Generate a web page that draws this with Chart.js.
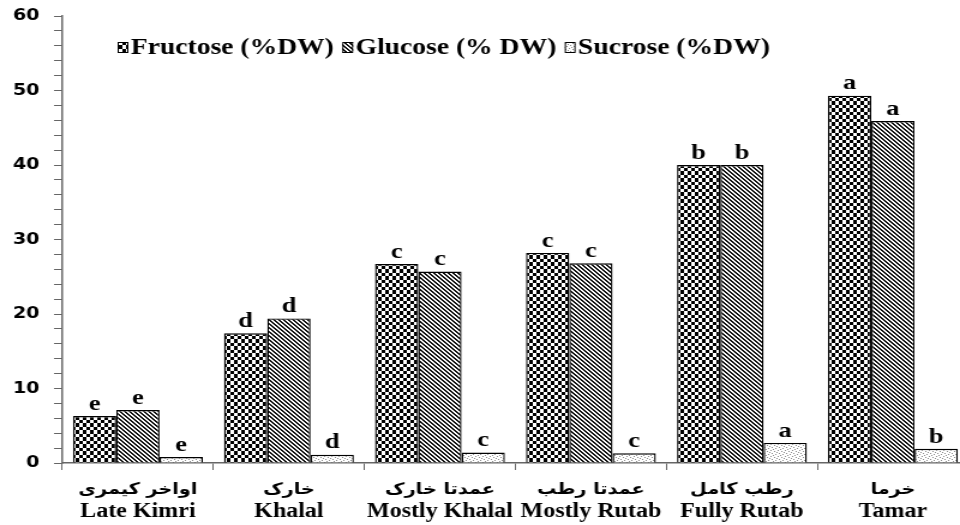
<!DOCTYPE html>
<html>
<head>
<meta charset="utf-8">
<script src="https://cdn.jsdelivr.net/npm/chart.js@4.4.1/dist/chart.umd.min.js"></script>
<style>
  html, body { margin: 0; padding: 0; background: #fff; overflow: hidden; }
  #wrap { width: 960px; height: 525px; overflow: hidden; position: relative; }
  /* the source figure is stretched sideways, so the chart is drawn narrow and widened */
  #box { width: 808px; height: 525px; position: absolute; left: 0; top: 0;
         transform: scaleX(1.2); transform-origin: 0 0; }
</style>
</head>
<body>
<div id="wrap"><div id="box"><canvas id="c"></canvas></div></div>
<script>
/* ---------- data ---------- */
const stagesFa = ['اواخر کیمری', 'خارک', 'عمدتا خارک', 'عمدتا رطب', 'رطب کامل', 'خرما'];
const stagesEn = ['Late Kimri', 'Khalal', 'Mostly Khalal', 'Mostly Rutab', 'Fully Rutab', 'Tamar'];

const fructose = [6.3, 17.4, 26.7, 28.2, 40.0, 49.3];
const glucose  = [7.1, 19.4, 25.7, 26.8, 40.0, 45.9];
const sucrose  = [0.8, 1.1, 1.4, 1.3, 2.7, 1.9];

const fructoseLetters = ['e', 'd', 'c', 'c', 'b', 'a'];
const glucoseLetters  = ['e', 'd', 'c', 'c', 'b', 'a'];
const sucroseLetters  = ['e', 'd', 'c', 'c', 'a', 'b'];

const yTicks = [0, 10, 20, 30, 40, 50, 60];

/* ---------- fill patterns (checker / hatch / stipple) ---------- */
function makeTile(w, h, paint) {
  const t = document.createElement('canvas');
  t.width = w; t.height = h;
  const g = t.getContext('2d');
  g.fillStyle = '#fff';
  g.fillRect(0, 0, w, h);
  paint(g);
  return g.createPattern(t, 'repeat');
}

const checker = makeTile(6, 7, g => {
  g.fillStyle = '#000';
  g.fillRect(0, 0, 3, 3);
  g.fillRect(3, 3, 3, 4);
});

const hatch = makeTile(4, 4, g => {
  g.fillStyle = '#111';
  for (let x = 0; x < 4; x++)
    for (let y = 0; y < 4; y++)
      if ((x - y + 8) % 4 < 2) g.fillRect(x, y, 1, 1);
});

const stipple = makeTile(6, 6, g => {
  g.fillStyle = '#8c8c8c';
  [[0, 0], [3, 1], [1, 3], [4, 4], [2, 5], [5, 2]].forEach(p => g.fillRect(p[0], p[1], 1, 1));
});

/* ---------- small plugins: letters above bars, pattern legend ---------- */
const serif = '"Liberation Serif", "Times New Roman", serif';

const letterPlugin = {
  id: 'letters',
  afterDatasetsDraw(chart) {
    const ctx = chart.ctx;
    ctx.save();
    ctx.font = 'bold 22px ' + serif;
    ctx.fillStyle = '#000';
    ctx.textAlign = 'center';
    ctx.textBaseline = 'bottom';
    chart.data.datasets.forEach((ds, i) => {
      chart.getDatasetMeta(i).data.forEach((bar, j) => {
        ctx.fillText(ds.letters[j], bar.x, bar.y - 1);
      });
    });
    ctx.restore();
  }
};

const legendPlugin = {
  id: 'patLegend',
  afterDraw(chart) {
    const ctx = chart.ctx;
    ctx.save();
    ctx.font = 'bold 23px ' + serif;
    ctx.textBaseline = 'middle';
    let x = 98;
    const y = 47;
    chart.data.datasets.forEach(ds => {
      ctx.fillStyle = ds.backgroundColor;
      ctx.fillRect(x, y - 5, 9, 11);
      ctx.strokeStyle = '#000';
      ctx.lineWidth = 1;
      ctx.strokeRect(x + 0.5, y - 4.5, 8, 10);
      ctx.fillStyle = '#000';
      ctx.fillText(ds.label, x + 11, y + 1);
      x += 11 + ctx.measureText(ds.label).width + 7;
    });
    ctx.restore();
  }
};

/* ---------- chart ---------- */
new Chart(document.getElementById('c'), {
  type: 'bar',
  data: {
    labels: stagesFa,
    datasets: [
      { label: 'Fructose (%DW)',  data: fructose, letters: fructoseLetters, backgroundColor: checker },
      { label: 'Glucose (% DW)',  data: glucose,  letters: glucoseLetters,  backgroundColor: hatch },
      { label: 'Sucrose (%DW)',   data: sucrose,  letters: sucroseLetters,  backgroundColor: stipple }
    ]
  },
  options: {
    responsive: true,
    maintainAspectRatio: false,
    animation: false,
    layout: { padding: { left: 4, right: 1, top: 0, bottom: 0 } },
    datasets: {
      bar: {
        borderColor: '#000',
        borderWidth: 1.4,
        borderSkipped: 'bottom',
        categoryPercentage: 0.86,
        barPercentage: 1.0
      }
    },
    plugins: {
      legend: { display: false },
      tooltip: { enabled: false }
    },
    scales: {
      x: {
        grid: { display: true, offset: true, drawOnChartArea: false, drawTicks: true, tickLength: 7, color: '#666' },
        border: { display: true, color: '#666', width: 1.5 },
        ticks: {
          color: '#000',
          padding: 10,
          maxRotation: 0,
          autoSkip: false,
          font: { family: '"DejaVu Sans", sans-serif', size: 16, weight: 'bold', lineHeight: 1.2 }
        },
        afterFit: s => { s.height = 36; }
      },
      x2: {
        type: 'category',
        position: 'bottom',
        labels: stagesEn,
        offset: true,
        grid: { display: false, drawTicks: false },
        border: { display: false },
        ticks: {
          color: '#000',
          padding: 1,
          maxRotation: 0,
          autoSkip: false,
          font: { family: serif, size: 20, weight: 'bold', lineHeight: 1.2 }
        },
        afterFit: s => { s.height = 26; }
      },
      y: {
        min: 0,
        max: 60,
        grid: { display: true, drawOnChartArea: false, drawTicks: true, tickLength: 7, color: '#666' },
        border: { display: true, color: '#666', width: 1.5 },
        ticks: {
          stepSize: 2,
          autoSkip: false,
          color: '#000',
          padding: 12,
          font: { family: '"DejaVu Sans", Verdana, sans-serif', size: 16, weight: 'bold', lineHeight: 1 },
          callback: v => yTicks.includes(v) ? String(v) : ''
        },
        afterFit: s => { s.width = 48; s.paddingTop = 16; }
      }
    }
  },
  plugins: [letterPlugin, legendPlugin]
});
</script>
</body>
</html>
